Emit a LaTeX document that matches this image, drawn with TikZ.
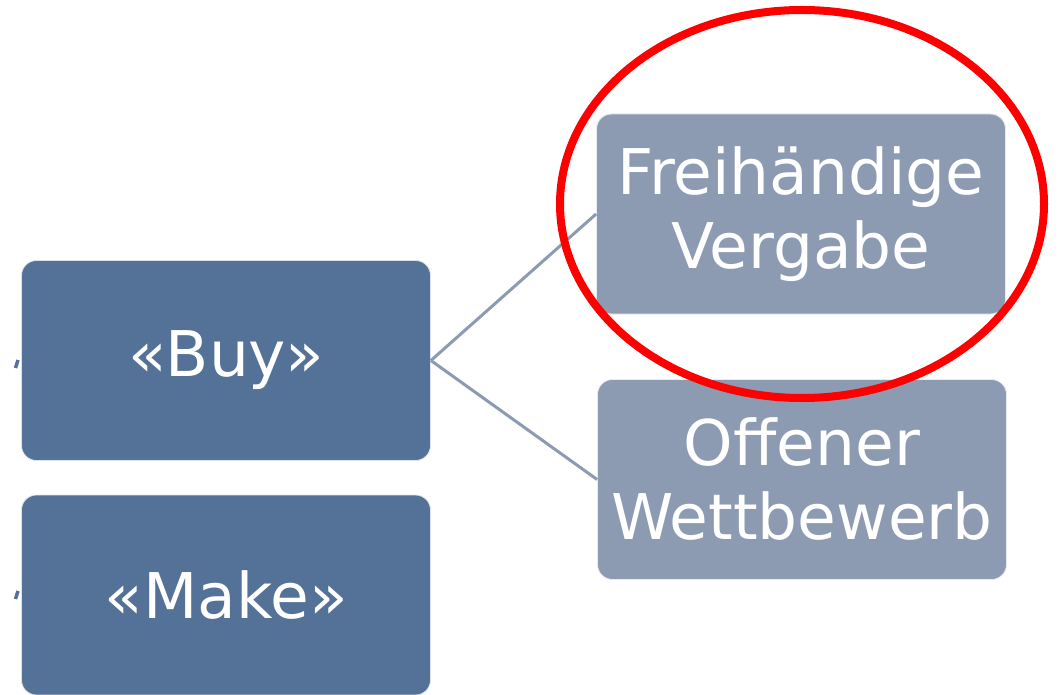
\documentclass[tikz,border=0pt]{standalone}
\usepackage{fontspec}
\setmainfont{DejaVu Sans}
\definecolor{boxdark}{RGB}{84,113,151}
\definecolor{boxlight}{RGB}{140,154,178}

\begin{document}
\begin{tikzpicture}[x=1pt, y=-1pt,
    darkbox/.style={fill=boxdark, draw=white!80!boxdark, line width=0.8pt,
      rounded corners=15pt, minimum width=409pt, minimum height=200pt,
      inner sep=0pt, text=white, align=center,
      font=\fontsize{63}{74}\selectfont},
    lightbox/.style={darkbox, fill=boxlight, draw=white!80!boxlight},
    link/.style={draw=boxlight, line width=3pt},
    stub/.style={draw=boxdark, line width=3.5pt}]
  \useasboundingbox (0,0) rectangle (1059,695);
  \def\RX{242}
  \def\RY{194}
  % left column
  \node[darkbox] (buy) at (226,360.5) {«Buy»};
  \node[darkbox] (make) at (226,595) {«Make»};
  % right column
  \node[lightbox] (freihand) at (801,214) {Freihändige\\Vergabe};
  \node[lightbox] (offen) at (802,479.5) {Offener\\Wettbewerb};
  \draw[link] (buy.east) -- (freihand.west);
  \draw[link] (buy.east) -- (offen.west);
  % cut-off connector ends on the left
  \foreach \y/\name in {368/A, 599/B}
  {
    \coordinate (\name) at (15.5,\y);
    \coordinate (\name') at (18,\y-8);
    \draw[stub] (\name) -- (\name');
  }
  % highlight
  \draw[red, line width=8pt] (802,204) ellipse[x radius=\RX, y radius=\RY];
\end{tikzpicture}
\end{document}
